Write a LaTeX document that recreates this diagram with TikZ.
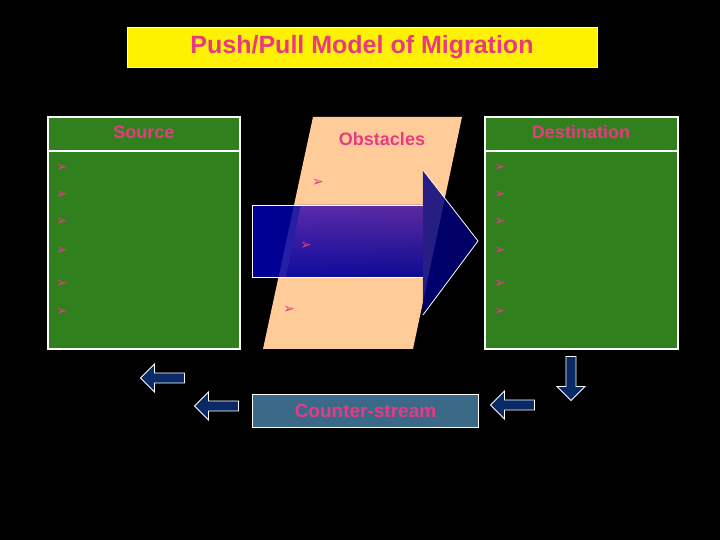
\documentclass[tikz,border=0pt]{standalone}
\usepackage{fontspec}
\setmainfont{Liberation Sans}
\newfontfamily\dv{DejaVu Sans}
\usetikzlibrary{shapes.arrows}
\definecolor{pk}{HTML}{E83A84}
\definecolor{gr}{HTML}{31801E}
\definecolor{pe}{HTML}{FFCC99}
\definecolor{nv}{HTML}{0A2A66}
\definecolor{cs}{HTML}{3A6A88}
\tikzset{
 box/.style={draw=white,fill=gr,line width=0.6pt},
 lbl/.style={text=pk,font=\bfseries\fontsize{9}{10}\selectfont},
 bul/.style={text=pk,font=\dv\fontsize{7}{8}\selectfont,inner sep=0pt},
 sarr/.style={single arrow,draw=white,fill=nv,line width=0.4pt,minimum height=22pt,minimum width=14pt,single arrow head extend=3pt,inner sep=1.5pt}
}
\begin{document}
\begin{tikzpicture}[x=0.5pt,y=-0.5pt]
\fill[black] (0,0) rectangle (720,540);
\useasboundingbox (0,0) rectangle (720,540);
\node[fill=yellow,draw=white,minimum width=235pt,minimum height=20pt,text=pk,font=\bfseries\fontsize{12.5}{14}\selectfont] (title) at (362,47) {Push/Pull Model of Migration};
% source
\draw[box] (48,117) rectangle (240,349);
\draw[white,line width=0.6pt] (48,151) -- (240,151);
\node[lbl] (src) at (144,132) {Source};
% destination
\draw[box] (485,117) rectangle (678,349);
\draw[white,line width=0.6pt] (485,151) -- (678,151);
\node[lbl] (dst) at (581,132) {Destination};
% obstacles
\fill[pe] (313,117) -- (462,117) -- (413,349) -- (263,349) -- cycle;
\node[lbl] (obs) at (382,139) {Obstacles};
% big arrow
\shade[left color=blue!70!black,right color=blue!45!black,opacity=0.85] (252,205) -- (423,205) -- (423,170) -- (478,241) -- (423,315) -- (423,277) -- (252,277) -- cycle;
\shade[top color=blue!50!purple!80!white,bottom color=blue!60!black,opacity=0.6] (301,205) -- (423,205) -- (423,277) -- (286,277) -- cycle;
\draw[white,line width=0.4pt] (423,205) -- (252,205) -- (252,277) -- (423,277);
\draw[white,line width=0.4pt] (423,170) -- (478,241) -- (423,315);
% bullets
\foreach \y [count=\i] in {168,195,222,251,284,312}{
 \node[bul] (s\i) at (62,\y) {➢};
 \node[bul] (d\i) at (500,\y) {➢};
}
\node[bul] (o1) at (318,183) {➢};
\node[bul] (o2) at (306,246) {➢};
\node[bul] (o3) at (289,310) {➢};
% counter-stream
\node[draw=white,fill=cs,line width=0.8pt,minimum width=113pt,minimum height=16.5pt,text=pk,font=\bfseries\fontsize{9.5}{11}\selectfont] (cstr) at (365.5,411) {Counter-stream};
\node[sarr,shape border rotate=180] (a1) at (219,406) {};
\node[sarr,shape border rotate=135,rotate=0] (a2) at (165,378) {};
\node[sarr,shape border rotate=188] (a3) at (515,405) {};
\node[sarr,shape border rotate=230] (a4) at (571,376) {};
\end{tikzpicture}
\end{document}
